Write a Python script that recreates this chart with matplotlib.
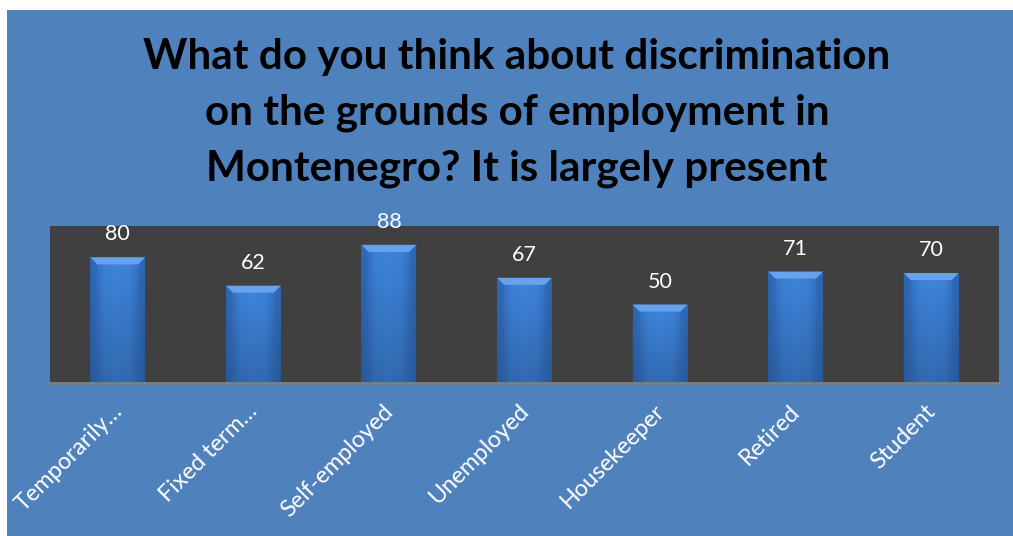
import numpy as np
import matplotlib
matplotlib.use("Agg")
import matplotlib.pyplot as plt
from matplotlib.patches import Rectangle, Polygon
from matplotlib.colors import LinearSegmentedColormap

categories = ["Temporarily…", "Fixed term…", "Self-employed", "Unemployed",
              "Housekeeper", "Retired", "Student"]
values = [80, 62, 88, 67, 50, 71, 70]
title = ("What do you think about discrimination\n"
         "on the grounds of employment in\n"
         "Montenegro? It is largely present")

W, H, DPI = 1013, 536, 100
fig = plt.figure(figsize=(W / DPI, H / DPI), dpi=DPI, facecolor="white")

# blue chart area with a thin white margin at left and top
fig.patches.append(Rectangle((7 / W, 0), 1 - 7 / W, 1 - 10 / H,
                             transform=fig.transFigure, facecolor="#4F81BD",
                             edgecolor="none", zorder=-5))

ax = fig.add_axes([50 / W, 1 - 383 / H, (999 - 50) / W, (383 - 226) / H])
ax.set_facecolor("#404040")
ax.set_xlim(-0.5, len(categories) - 0.5)
ax.set_ylim(0, 100)

x = np.arange(len(categories))
bar_w = 0.405
bars = ax.bar(x, values, width=bar_w, color="#3A7BD0", zorder=3)

# shaded body, bevelled top and darker sides for each bar
cmap = LinearSegmentedColormap.from_list("bar", ["#2F68B5", "#3C81D8", "#3F86DD", "#3C81D8", "#2F68B5"])
grad = np.tile(np.linspace(0, 1, 64), (32, 1))
vshade = np.linspace(0.0, 0.2, 32)[:, None, None]
px_per_unit_y = (383 - 226) / 100.0
px_per_unit_x = (999 - 50) / len(categories)
for b in bars:
    bx, bw, bh = b.get_x(), b.get_width(), b.get_height()
    b.set_facecolor("none")
    rgba = cmap(grad)
    rgba[..., :3] = rgba[..., :3] * (1 - vshade)
    im = ax.imshow(rgba, extent=(bx, bx + bw, 0, bh), aspect="auto",
                   origin="upper", zorder=3, interpolation="bilinear")
    im.set_clip_path(b)
    dy = 7 / px_per_unit_y
    dx = 7 / px_per_unit_x
    ax.add_patch(Polygon([(bx, bh), (bx + bw, bh), (bx + bw - dx, bh - dy), (bx + dx, bh - dy)],
                         closed=True, facecolor="#66A3EC", edgecolor="none", zorder=4))
    ax.add_patch(Polygon([(bx, bh), (bx + dx, bh - dy), (bx + dx, 0), (bx, 0)],
                         closed=True, facecolor="#2C62AA", edgecolor="none", zorder=4, alpha=0.4))
    ax.add_patch(Polygon([(bx + bw, bh), (bx + bw - dx, bh - dy), (bx + bw - dx, 0), (bx + bw, 0)],
                         closed=True, facecolor="#2C62AA", edgecolor="none", zorder=4, alpha=0.4))
    ax.text(bx + bw / 2, bh + 23 / px_per_unit_y, f"{int(round(bh))}", ha="center",
            va="center", color="white", fontsize=15.5, family="Lato", zorder=5)

for s in ["top", "right", "left"]:
    ax.spines[s].set_visible(False)
ax.spines["bottom"].set_color("#808080")
ax.spines["bottom"].set_linewidth(2)
ax.spines["bottom"].set_zorder(6)
ax.set_yticks([])
ax.set_xticks(x)
ax.set_xticklabels([])
ax.tick_params(axis="x", length=0)

for xi, lab in zip(x, categories):
    ax.annotate(lab, xy=(xi, 0), xycoords="data", xytext=(1, -25), textcoords="offset pixels",
                rotation=45, rotation_mode="anchor", ha="right", va="center",
                color="white", fontsize=16.8, family="Lato")

fig.text(517 / W, 1 - 113 / H, title, ha="center", va="center", fontsize=30.4,
         fontweight="bold", family="Lato", color="black", linespacing=1.56)

fig.savefig("out.png", dpi=DPI, facecolor="white")
